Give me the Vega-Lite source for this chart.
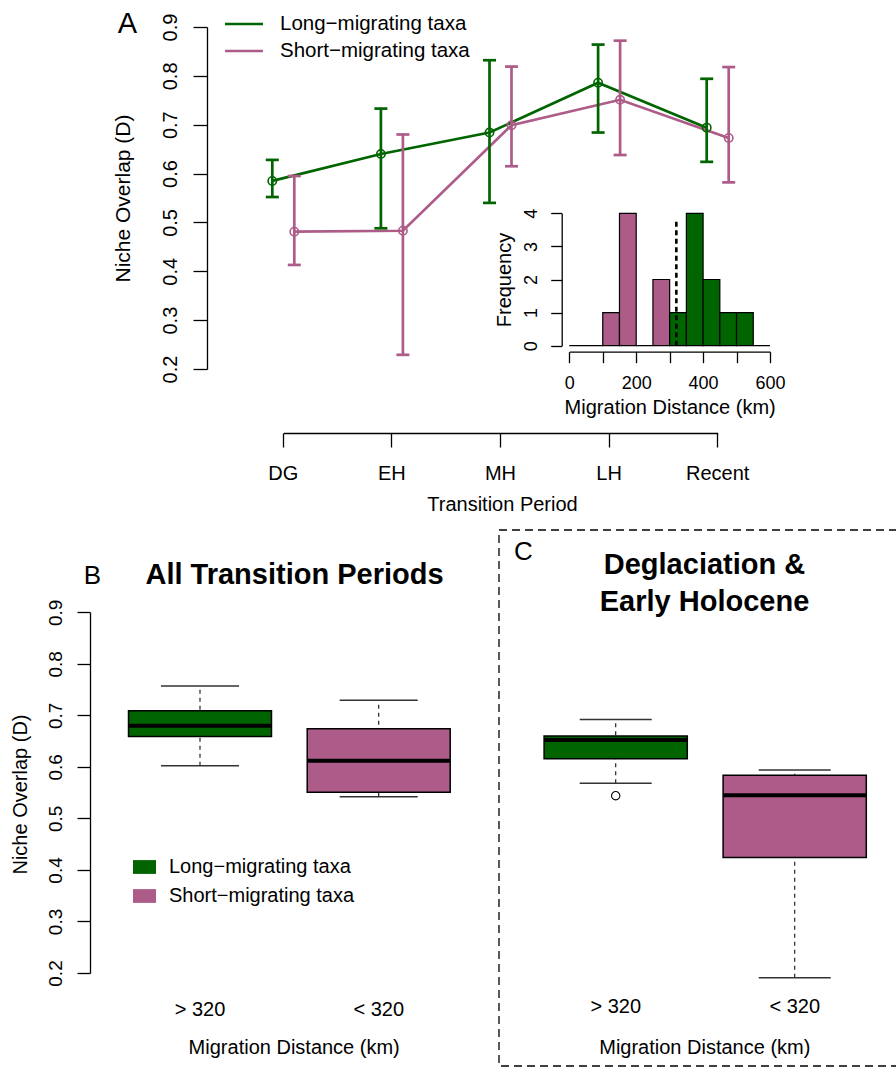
{
  "$schema": "https://vega.github.io/schema/vega-lite/v6.json",
  "width": 896,
  "height": 1068,
  "autosize": {"type": "none"},
  "padding": 0,
  "background": "white",
  "config": {
    "view": {"stroke": null},
    "font": "Liberation Sans",
    "axis": {
      "grid": false,
      "domainColor": "black",
      "tickColor": "black",
      "labelColor": "black",
      "titleColor": "black",
      "labelFont": "Liberation Sans",
      "titleFont": "Liberation Sans",
      "titleFontWeight": "normal",
      "domainWidth": 1.3,
      "tickWidth": 1.3,
      "labelFlush": false,
      "labelOverlap": false
    },
    "legend": {"labelFont": "Liberation Sans", "labelColor": "black", "padding": 0, "labelLimit": 400}
  },
  "datasets": {
    "pa": [
      {"period": "DG", "series": "Long−migrating taxa", "D": 0.585, "lo": 0.552, "hi": 0.628},
      {"period": "EH", "series": "Long−migrating taxa", "D": 0.640, "lo": 0.488, "hi": 0.733},
      {"period": "MH", "series": "Long−migrating taxa", "D": 0.684, "lo": 0.540, "hi": 0.832},
      {"period": "LH", "series": "Long−migrating taxa", "D": 0.786, "lo": 0.684, "hi": 0.864},
      {"period": "Recent", "series": "Long−migrating taxa", "D": 0.694, "lo": 0.624, "hi": 0.794},
      {"period": "DG", "series": "Short−migrating taxa", "D": 0.481, "lo": 0.413, "hi": 0.595},
      {"period": "EH", "series": "Short−migrating taxa", "D": 0.483, "lo": 0.229, "hi": 0.680},
      {"period": "MH", "series": "Short−migrating taxa", "D": 0.699, "lo": 0.615, "hi": 0.819},
      {"period": "LH", "series": "Short−migrating taxa", "D": 0.751, "lo": 0.638, "hi": 0.872},
      {"period": "Recent", "series": "Short−migrating taxa", "D": 0.673, "lo": 0.582, "hi": 0.818}
    ],
    "hist": [
      {"b0": 0, "b1": 50, "n": 0, "grp": "short"},
      {"b0": 50, "b1": 100, "n": 0, "grp": "short"},
      {"b0": 100, "b1": 150, "n": 1, "grp": "short"},
      {"b0": 150, "b1": 200, "n": 4, "grp": "short"},
      {"b0": 200, "b1": 250, "n": 0, "grp": "short"},
      {"b0": 250, "b1": 300, "n": 2, "grp": "short"},
      {"b0": 300, "b1": 350, "n": 1, "grp": "long"},
      {"b0": 350, "b1": 400, "n": 4, "grp": "long"},
      {"b0": 400, "b1": 450, "n": 2, "grp": "long"},
      {"b0": 450, "b1": 500, "n": 1, "grp": "long"},
      {"b0": 500, "b1": 550, "n": 1, "grp": "long"},
      {"b0": 550, "b1": 600, "n": 0, "grp": "long"}
    ],
    "boxB": [
      {"dist": "> 320", "grp": "long", "lower": 0.602, "q1": 0.659, "med": 0.680, "q3": 0.709, "upper": 0.757},
      {"dist": "< 320", "grp": "short", "lower": 0.542, "q1": 0.551, "med": 0.612, "q3": 0.674, "upper": 0.7295}
    ],
    "boxC": [
      {"dist": "> 320", "grp": "long", "lower": 0.568, "q1": 0.616, "med": 0.652, "q3": 0.660, "upper": 0.692},
      {"dist": "< 320", "grp": "short", "lower": 0.191, "q1": 0.424, "med": 0.545, "q3": 0.584, "upper": 0.594}
    ],
    "outC": [
      {"dist": "> 320", "v": 0.544}
    ]
  },
  "layer": [
    {
      "data": {"values": [{"frame": "C"}]},
      "mark": {"type": "rect", "fill": "transparent", "stroke": "black", "strokeDash": [8, 5], "strokeWidth": 1.3},
      "encoding": {
        "x": {"datum": 0, "type": "quantitative", "scale": {"domain": [0, 1], "range": [499, 912], "nice": false, "zero": false}, "axis": null},
        "x2": {"datum": 1},
        "y": {"datum": 0, "type": "quantitative", "scale": {"domain": [0, 1], "range": [530, 1066], "nice": false, "zero": false}, "axis": null},
        "y2": {"datum": 1}
      }
    },
    {
      "data": {"name": "pa"},
      "layer": [
        {
          "mark": {"type": "line", "strokeWidth": 2.7},
          "encoding": {
            "x": {
              "field": "period", "type": "ordinal",
              "scale": {"type": "band", "domain": ["DG", "EH", "MH", "LH", "Recent"], "range": [283.3, 717.7], "paddingInner": 1, "paddingOuter": 0},
              "axis": {
                "orient": "bottom", "offset": -635, "tickSize": 14, "labelAngle": 0, "labelAlign": "center",
                "labelBaseline": "alphabetic", "labelPadding": 32, "labelFontSize": 20,
                "title": "Transition Period", "titleFontSize": 20, "titleX": 502, "titleY": 77,
                "titleAlign": "center", "titleBaseline": "alphabetic", "titleAngle": 0
              }
            },
            "xOffset": {"field": "series", "type": "nominal", "scale": {"type": "band", "domain": ["Long−migrating taxa", "Short−migrating taxa"], "range": [-22, 22], "paddingInner": 0, "paddingOuter": 0}},
            "y": {
              "field": "D", "type": "quantitative",
              "scale": {"domain": [0.2, 0.9], "range": [369, 27], "nice": false, "zero": false},
              "axis": {
                "orient": "left", "offset": -207, "values": [0.2, 0.3, 0.4, 0.5, 0.6, 0.7, 0.8, 0.9], "format": ".1f",
                "tickSize": 14, "labelAngle": -90, "labelAlign": "center", "labelBaseline": "alphabetic",
                "labelPadding": 17, "labelFontSize": 20, "labelFont": "Liberation Sans Narrow, Liberation Sans",
                "title": "Niche Overlap (D)", "titleFontSize": 21, "titleX": -78, "titleY": 198,
                "titleAngle": -90, "titleAlign": "center", "titleBaseline": "alphabetic"
              }
            },
            "color": {
              "field": "series", "type": "nominal",
              "scale": {"domain": ["Long−migrating taxa", "Short−migrating taxa"], "range": ["#006400", "#AD5B88"]},
              "legend": {
                "orient": "none", "legendX": 233, "legendY": 13, "title": null, "symbolType": "M-2,0H2",
                "symbolSize": 361, "symbolStrokeWidth": 2.7, "symbolFillColor": "transparent",
                "labelFontSize": 20.5, "labelOffset": 25, "rowPadding": 5
              }
            }
          }
        },
        {
          "mark": {"type": "rule", "strokeWidth": 2.7},
          "encoding": {
            "x": {"field": "period", "type": "ordinal", "axis": null},
            "xOffset": {"field": "series", "type": "nominal"},
            "y": {"field": "lo", "type": "quantitative", "axis": null},
            "y2": {"field": "hi"},
            "color": {"field": "series", "type": "nominal", "legend": null}
          }
        },
        {
          "mark": {"type": "tick", "thickness": 2.7, "size": 13, "opacity": 1},
          "encoding": {
            "x": {"field": "period", "type": "ordinal", "axis": null},
            "xOffset": {"field": "series", "type": "nominal"},
            "y": {"field": "lo", "type": "quantitative", "axis": null},
            "color": {"field": "series", "type": "nominal", "legend": null}
          }
        },
        {
          "mark": {"type": "tick", "thickness": 2.7, "size": 13, "opacity": 1},
          "encoding": {
            "x": {"field": "period", "type": "ordinal", "axis": null},
            "xOffset": {"field": "series", "type": "nominal"},
            "y": {"field": "hi", "type": "quantitative", "axis": null},
            "color": {"field": "series", "type": "nominal", "legend": null}
          }
        },
        {
          "mark": {"type": "point", "filled": false, "size": 70, "strokeWidth": 1.6, "opacity": 1},
          "encoding": {
            "x": {"field": "period", "type": "ordinal", "axis": null},
            "xOffset": {"field": "series", "type": "nominal"},
            "y": {
              "field": "D", "type": "quantitative",
              "axis": {
                "orient": "left", "offset": 0, "domain": false, "ticks": false, "labels": false,
                "title": "A", "titleFontSize": 29, "titleAngle": 0, "titleX": 127, "titleY": 32,
                "titleAlign": "center", "titleBaseline": "alphabetic"
              }
            },
            "color": {"field": "series", "type": "nominal", "legend": null}
          }
        }
      ],
      "resolve": {"axis": {"x": "independent", "y": "independent"}}
    },
    {
      "data": {"name": "hist"},
      "layer": [
        {
          "mark": {"type": "bar", "stroke": "black", "strokeWidth": 1.2},
          "encoding": {
            "x": {
              "field": "b0", "type": "quantitative",
              "scale": {"domain": [0, 600], "range": [569.3, 770], "nice": false, "zero": false},
              "axis": {
                "orient": "bottom", "offset": -716.3, "values": [0, 100, 200, 300, 400, 500, 600],
                "labelExpr": "datum.value % 200 == 0 ? datum.label : ''",
                "tickSize": 11, "labelAngle": 0, "labelAlign": "center", "labelBaseline": "alphabetic",
                "labelPadding": 26, "labelFontSize": 18,
                "title": "Migration Distance (km)", "titleFontSize": 20, "titleX": 669.7, "titleY": 61.3,
                "titleAlign": "center", "titleBaseline": "alphabetic", "titleAngle": 0
              }
            },
            "x2": {"field": "b1"},
            "y": {
              "field": "n", "type": "quantitative", "stack": null,
              "scale": {"domain": [0, 4], "range": [345.7, 213.3], "nice": false},
              "axis": {
                "orient": "left", "offset": -561.7, "values": [0, 1, 2, 3, 4],
                "tickSize": 11, "labelAngle": -90, "labelAlign": "center", "labelBaseline": "alphabetic",
                "labelPadding": 14, "labelFontSize": 18, "labelFont": "Liberation Sans Narrow, Liberation Sans",
                "title": "Frequency", "titleFontSize": 20, "titleX": -51.7, "titleY": 279.5,
                "titleAngle": -90, "titleAlign": "center", "titleBaseline": "alphabetic"
              }
            },
            "y2": {"datum": 0},
            "fill": {"field": "grp", "type": "nominal", "scale": {"domain": ["long", "short"], "range": ["#006400", "#AD5B88"]}}
          }
        },
        {
          "data": {"values": [{"cut": 320}]},
          "mark": {"type": "rule", "strokeDash": [5, 3.5], "strokeWidth": 2.6, "color": "black"},
          "encoding": {
            "x": {"field": "cut", "type": "quantitative", "axis": null},
            "y": {"datum": 0, "type": "quantitative", "axis": null},
            "y2": {"datum": 3.85}
          }
        }
      ],
      "resolve": {"axis": {"x": "independent", "y": "independent"}}
    },
    {
      "data": {"name": "boxB"},
      "layer": [
        {
          "mark": {"type": "rule", "strokeDash": [4, 4], "strokeWidth": 1.2, "color": "#222"},
          "encoding": {
            "x": {
              "field": "dist", "type": "nominal",
              "scale": {"type": "band", "domain": ["> 320", "< 320"], "range": [110.65, 468.05], "paddingInner": 0, "paddingOuter": 0},
              "axis": {
                "orient": "top", "offset": 0, "domain": false, "ticks": false, "labels": false,
                "title": "All Transition Periods", "titleFontSize": 29, "titleFontWeight": "bold",
                "titleX": 294, "titleY": 583, "titleAlign": "center", "titleBaseline": "alphabetic", "titleAngle": 0
              }
            },
            "y": {
              "field": "lower", "type": "quantitative",
              "scale": {"domain": [0.2, 0.9], "range": [973, 612.3], "nice": false, "zero": false},
              "axis": {
                "orient": "left", "offset": 0, "domain": false, "ticks": false, "labels": false,
                "title": "B", "titleFontSize": 26, "titleAngle": 0, "titleX": 92, "titleY": 583,
                "titleAlign": "center", "titleBaseline": "alphabetic"
              }
            },
            "y2": {"field": "upper"}
          }
        },
        {
          "mark": {"type": "bar", "stroke": "black", "strokeWidth": 1.5, "width": {"band": 0.8}},
          "encoding": {
            "x": {
              "field": "dist", "type": "nominal",
              "axis": {
                "orient": "bottom", "offset": -78, "domain": false, "ticks": false, "tickSize": 0,
                "labelAngle": 0, "labelAlign": "center", "labelBaseline": "alphabetic", "labelPadding": 25, "labelFontSize": 20,
                "title": "Migration Distance (km)", "titleFontSize": 20, "titleX": 293.7, "titleY": 63.7,
                "titleAlign": "center", "titleBaseline": "alphabetic", "titleAngle": 0
              }
            },
            "y": {
              "field": "q1", "type": "quantitative",
              "axis": {
                "orient": "left", "offset": -90, "values": [0.2, 0.3, 0.4, 0.5, 0.6, 0.7, 0.8, 0.9], "format": ".1f",
                "tickSize": 13, "labelAngle": -90, "labelAlign": "center", "labelBaseline": "alphabetic",
                "labelPadding": 16, "labelFontSize": 19, "labelFont": "Liberation Sans Narrow, Liberation Sans",
                "title": "Niche Overlap (D)", "titleFontSize": 20, "titleX": -63.3, "titleY": 794,
                "titleAngle": -90, "titleAlign": "center", "titleBaseline": "alphabetic"
              }
            },
            "y2": {"field": "q3"},
            "fill": {
              "field": "grp", "type": "nominal",
              "scale": {"domain": ["long", "short"], "range": ["#006400", "#AD5B88"]},
              "legend": {
                "orient": "none", "legendX": 133, "legendY": 855.5, "title": null,
                "labelExpr": "datum.value == 'long' ? 'Long−migrating taxa' : 'Short−migrating taxa'",
                "symbolType": "M-1,-0.6H1V0.6H-1Z", "symbolSize": 529, "symbolStrokeWidth": 0,
                "symbolStrokeColor": "transparent", "labelFontSize": 20, "labelOffset": 13, "rowPadding": 7
              }
            }
          }
        },
        {
          "mark": {"type": "tick", "color": "black", "size": 143, "thickness": 4, "opacity": 1},
          "encoding": {
            "x": {"field": "dist", "type": "nominal", "axis": null},
            "y": {"field": "med", "type": "quantitative", "axis": null}
          }
        },
        {
          "mark": {"type": "tick", "color": "#333", "size": 78, "thickness": 1.5, "opacity": 1},
          "encoding": {
            "x": {"field": "dist", "type": "nominal", "axis": null},
            "y": {"field": "upper", "type": "quantitative", "axis": null}
          }
        },
        {
          "mark": {"type": "tick", "color": "#333", "size": 78, "thickness": 1.5, "opacity": 1},
          "encoding": {
            "x": {"field": "dist", "type": "nominal", "axis": null},
            "y": {"field": "lower", "type": "quantitative", "axis": null}
          }
        }
      ],
      "resolve": {"axis": {"x": "independent", "y": "independent"}}
    },
    {
      "data": {"name": "boxC"},
      "layer": [
        {
          "mark": {"type": "rule", "strokeDash": [4, 4], "strokeWidth": 1.2, "color": "#222"},
          "encoding": {
            "x": {
              "field": "dist", "type": "nominal",
              "scale": {"type": "band", "domain": ["> 320", "< 320"], "range": [526.2, 884.2], "paddingInner": 0, "paddingOuter": 0},
              "axis": {
                "orient": "top", "offset": 0, "domain": false, "ticks": false, "labels": false,
                "title": ["Deglaciation &", "Early Holocene"], "titleFontSize": 29, "titleFontWeight": "bold",
                "titleLineHeight": 37, "titleX": 704, "titleY": 573, "titleAlign": "center", "titleBaseline": "alphabetic", "titleAngle": 0
              }
            },
            "y": {
              "field": "lower", "type": "quantitative",
              "scale": {"domain": [0.2, 0.9], "range": [973, 612.3], "nice": false, "zero": false},
              "axis": {
                "orient": "left", "offset": 0, "domain": false, "ticks": false, "labels": false,
                "title": "C", "titleFontSize": 26, "titleAngle": 0, "titleX": 523, "titleY": 559,
                "titleAlign": "center", "titleBaseline": "alphabetic"
              }
            },
            "y2": {"field": "upper"}
          }
        },
        {
          "mark": {"type": "bar", "stroke": "black", "strokeWidth": 1.5, "width": {"band": 0.8}},
          "encoding": {
            "x": {
              "field": "dist", "type": "nominal",
              "axis": {
                "orient": "bottom", "offset": -78, "domain": false, "ticks": false, "tickSize": 0,
                "labelAngle": 0, "labelAlign": "center", "labelBaseline": "alphabetic", "labelPadding": 22, "labelFontSize": 20,
                "title": "Migration Distance (km)", "titleFontSize": 20, "titleX": 704.3, "titleY": 63.7,
                "titleAlign": "center", "titleBaseline": "alphabetic", "titleAngle": 0
              }
            },
            "y": {"field": "q1", "type": "quantitative", "axis": null},
            "y2": {"field": "q3"},
            "fill": {"field": "grp", "type": "nominal", "scale": {"domain": ["long", "short"], "range": ["#006400", "#AD5B88"]}}
          }
        },
        {
          "mark": {"type": "tick", "color": "black", "size": 143, "thickness": 4, "opacity": 1},
          "encoding": {
            "x": {"field": "dist", "type": "nominal", "axis": null},
            "y": {"field": "med", "type": "quantitative", "axis": null}
          }
        },
        {
          "mark": {"type": "tick", "color": "#333", "size": 72, "thickness": 1.5, "opacity": 1},
          "encoding": {
            "x": {"field": "dist", "type": "nominal", "axis": null},
            "y": {"field": "upper", "type": "quantitative", "axis": null}
          }
        },
        {
          "mark": {"type": "tick", "color": "#333", "size": 72, "thickness": 1.5, "opacity": 1},
          "encoding": {
            "x": {"field": "dist", "type": "nominal", "axis": null},
            "y": {"field": "lower", "type": "quantitative", "axis": null}
          }
        },
        {
          "data": {"name": "outC"},
          "mark": {"type": "point", "filled": false, "size": 70, "strokeWidth": 1.1, "color": "black", "opacity": 1},
          "encoding": {
            "x": {"field": "dist", "type": "nominal", "axis": null},
            "y": {"field": "v", "type": "quantitative", "axis": null}
          }
        }
      ],
      "resolve": {"axis": {"x": "independent", "y": "independent"}}
    }
  ],
  "resolve": {
    "scale": {"x": "independent", "y": "independent", "xOffset": "independent"},
    "axis": {"x": "independent", "y": "independent"}
  }
}
